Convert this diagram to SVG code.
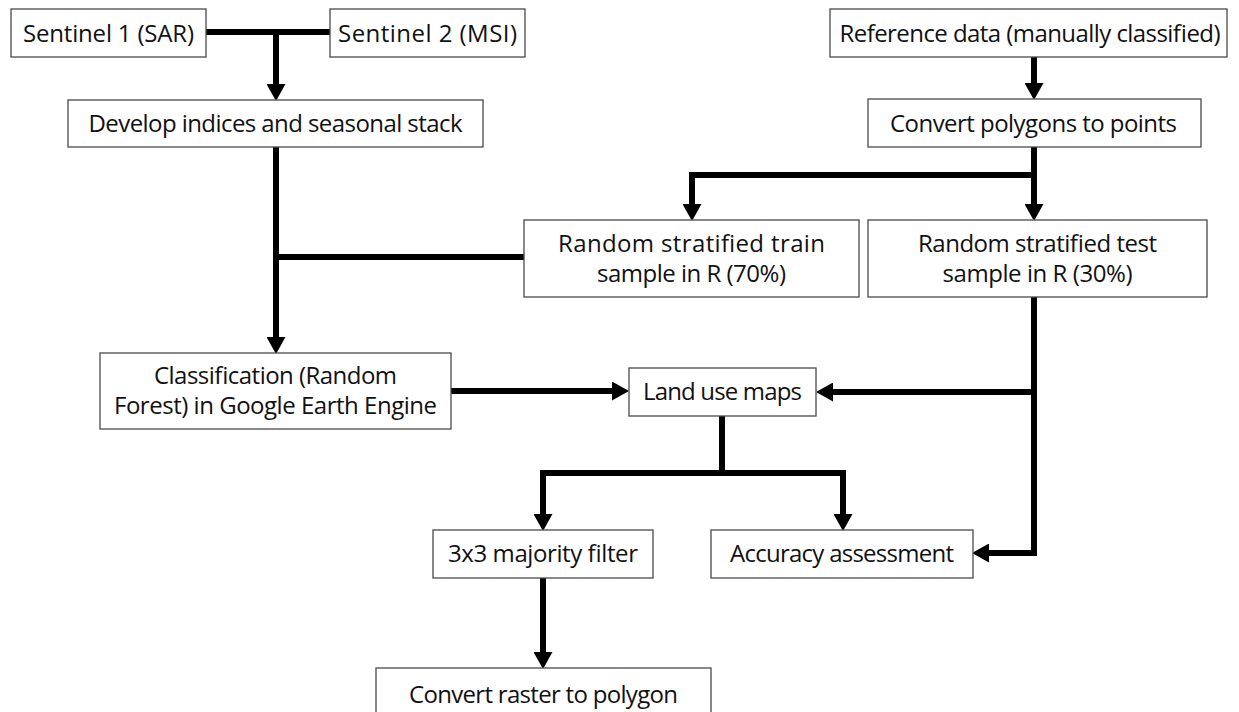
<svg xmlns="http://www.w3.org/2000/svg" width="1239" height="712" viewBox="0 0 1239 712">
<style>
.box{fill:#fff;stroke:#4a4a4a;stroke-width:1.3}
.t{font-family:"Open Sans","Noto Sans",sans-serif;font-size:24px;fill:#111;text-anchor:middle}
.c{fill:none;stroke:#000;stroke-width:6;stroke-linejoin:miter;stroke-linecap:butt}
.a{marker-end:url(#ah)}
</style>
<defs>
<marker id="ah" markerUnits="userSpaceOnUse" markerWidth="17" markerHeight="19" refX="1" refY="9.5" orient="auto" viewBox="0 0 17 19">
<path d="M0,0 L17,9.5 L0,19 z" fill="#000"/>
</marker>
</defs>
<rect width="1239" height="712" fill="#fff"/>
<g id="connectors">
<path class="c" d="M206,32 H330"/>
<path class="c a" d="M276,32 V85"/>
<path class="c a" d="M276,147 V338"/>
<path class="c" d="M524,257 H276"/>
<path class="c a" d="M1034,57 V84"/>
<path class="c a" d="M1034,147 V205"/>
<path class="c a" d="M1037,175 H692 V205"/>
<path class="c a" d="M451,391 H613"/>
<path class="c a" d="M1034,297 V553 H988"/>
<path class="c a" d="M1037,392 H832"/>
<path class="c a" d="M722,416 V473 H543 V515"/>
<path class="c a" d="M719,473 H843 V515"/>
<path class="c a" d="M543,578 V653"/>
</g>
<g id="n-s1"><rect class="box" x="11" y="9" width="195" height="48"/><text class="t" x="108.5" y="42" textLength="171" lengthAdjust="spacing">Sentinel 1 (SAR)</text></g>
<g id="n-s2"><rect class="box" x="330" y="9" width="195" height="48"/><text class="t" x="427.5" y="42" textLength="179" lengthAdjust="spacing">Sentinel 2 (MSI)</text></g>
<g id="n-dev"><rect class="box" x="68" y="100" width="415" height="47"/><text class="t" x="275.5" y="132" textLength="374" lengthAdjust="spacing">Develop indices and seasonal stack</text></g>
<g id="n-ref"><rect class="box" x="830" y="9" width="397" height="48"/><text class="t" x="1030" y="42" textLength="381" lengthAdjust="spacing">Reference data (manually classified)</text></g>
<g id="n-conv"><rect class="box" x="868" y="99" width="333" height="48"/><text class="t" x="1033.5" y="132" textLength="287" lengthAdjust="spacing">Convert polygons to points</text></g>
<g id="n-train"><rect class="box" x="524" y="220" width="335" height="77"/><text class="t" x="691.5" y="252" textLength="267" lengthAdjust="spacing">Random stratified train</text><text class="t" x="691.5" y="282" textLength="189" lengthAdjust="spacing">sample in R (70%)</text></g>
<g id="n-test"><rect class="box" x="868" y="220" width="339" height="77"/><text class="t" x="1037.5" y="252" textLength="239" lengthAdjust="spacing">Random stratified test</text><text class="t" x="1037.5" y="282" textLength="190" lengthAdjust="spacing">sample in R (30%)</text></g>
<g id="n-class"><rect class="box" x="100" y="353" width="351" height="76"/><text class="t" x="275.5" y="384" textLength="243" lengthAdjust="spacing">Classification (Random</text><text class="t" x="275.5" y="414" textLength="323" lengthAdjust="spacing">Forest) in Google Earth Engine</text></g>
<g id="n-land"><rect class="box" x="629" y="368" width="187" height="48"/><text class="t" x="722.5" y="400" textLength="159" lengthAdjust="spacing">Land use maps</text></g>
<g id="n-maj"><rect class="box" x="433" y="530" width="220" height="48"/><text class="t" x="543" y="562" textLength="190" lengthAdjust="spacing">3x3 majority filter</text></g>
<g id="n-acc"><rect class="box" x="711" y="530" width="262" height="48"/><text class="t" x="842" y="562" textLength="224" lengthAdjust="spacing">Accuracy assessment</text></g>
<g id="n-rast"><rect class="box" x="376" y="668" width="335" height="60"/><text class="t" x="543.5" y="703" textLength="269" lengthAdjust="spacing">Convert raster to polygon</text></g>
</svg>
